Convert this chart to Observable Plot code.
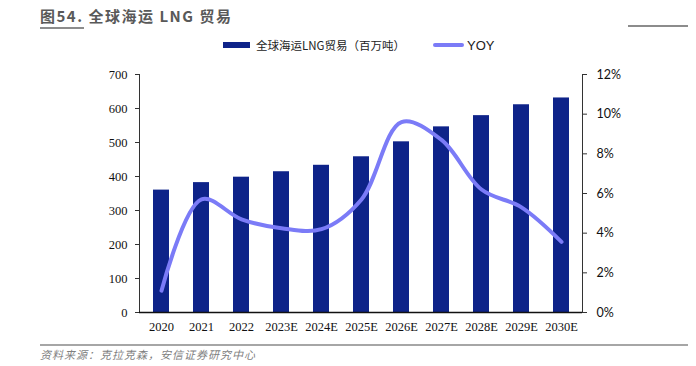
<!DOCTYPE html>
<html><head><meta charset="utf-8">
<script src="https://cdn.jsdelivr.net/npm/d3@7"></script>
<script src="https://cdn.jsdelivr.net/npm/@observablehq/plot@0.6"></script>
<style>
body{margin:0;background:#fff;width:696px;height:366px;position:relative;overflow:hidden;font-family:"Noto Sans CJK SC",sans-serif}
#chart{position:absolute;left:0;top:0}
.title{position:absolute;left:40px;top:5px;font-size:15px;font-weight:bold;color:#595959;letter-spacing:1.5px}
.title span{border-bottom:2px solid #8c8c8c;padding-bottom:1px}
.hline{position:absolute;left:628px;top:25px;width:60px;height:2px;background:#8c8c8c}
.legend{position:absolute;top:37px;left:223px;font-size:11.5px;color:#222;display:flex;align-items:center}
.sw{display:inline-block}
.foot{position:absolute;left:40px;top:344px;width:648px;border-top:2px solid #a6a6a6}
.src{position:absolute;left:40px;top:346px;font-size:11px;font-style:italic;color:#7f7f7f;letter-spacing:1px}
</style></head>
<body>
<div class="title"><span>图54.</span> 全球海运 LNG 贸易</div>
<div class="hline"></div>
<div class="legend"><span class="sw" style="width:27px;height:6px;background:#0e2389;margin-right:6px"></span><span>全球海运LNG贸易（百万吨）</span><span class="sw" style="width:31px;height:4px;background:#7b7bf7;margin-left:28px;margin-right:3px;border-radius:2px"></span><span style="font-family:'Liberation Sans';font-size:13px">YOY</span></div>
<div id="chart"></div>
<div class="foot"></div>
<div class="src">资料来源：克拉克森，安信证券研究中心</div>
<script>
const years = ["2020","2021","2022","2023E","2024E","2025E","2026E","2027E","2028E","2029E","2030E"];
const trade = [360,382,398,414,433,458,502,546,579,611,631];
const yoy = [1.1,5.7,4.7,4.25,4.2,5.7,9.6,8.7,6.2,5.3,3.56];
const leftTicks = [0,100,200,300,400,500,600,700];
const rightTicks = [0,2,4,6,8,10,12];

const data = years.map((y,i)=>({year:y, trade:trade[i], yoy:yoy[i]}));
const k = 700/12;

const plot = Plot.plot({
  width:696, height:366,
  marginLeft:139, marginRight:114, marginTop:74, marginBottom:54,
  x:{type:"band", domain:years, paddingInner:0.6, paddingOuter:0.3, label:null},
  y:{domain:[0,700], label:null},
  marks:[
    Plot.barY(data,{x:"year", y:"trade", fill:"#0e2389"}),
    Plot.line(data,{x:"year", y:d=>d.yoy*k, stroke:"#7b7bf7", strokeWidth:4, curve:"catmull-rom"}),
    Plot.frame({anchor:"left", stroke:"#333"}),
    Plot.frame({anchor:"right", stroke:"#333"}),
    Plot.ruleY([0],{stroke:"#111", strokeWidth:1.5}),
    Plot.axisX({tickSize:0, tickPadding:10, fontFamily:"Liberation Serif", fontSize:12.5, fill:"#111", label:null}),
    Plot.axisY({anchor:"left", ticks:leftTicks, tickSize:4, tickPadding:8, fontFamily:"Liberation Serif", fontSize:12.5, fill:"#111", stroke:"#333", label:null}),
    Plot.axisY({anchor:"right", ticks:rightTicks.map(v=>v*k), tickFormat:d=>Math.round(d/k)+"%", tickSize:4, tickPadding:10, fontFamily:"Lato", fontSize:12.5, fill:"#111", stroke:"#333", label:null})
  ]
});
document.getElementById("chart").appendChild(plot);
</script>
</body></html>
